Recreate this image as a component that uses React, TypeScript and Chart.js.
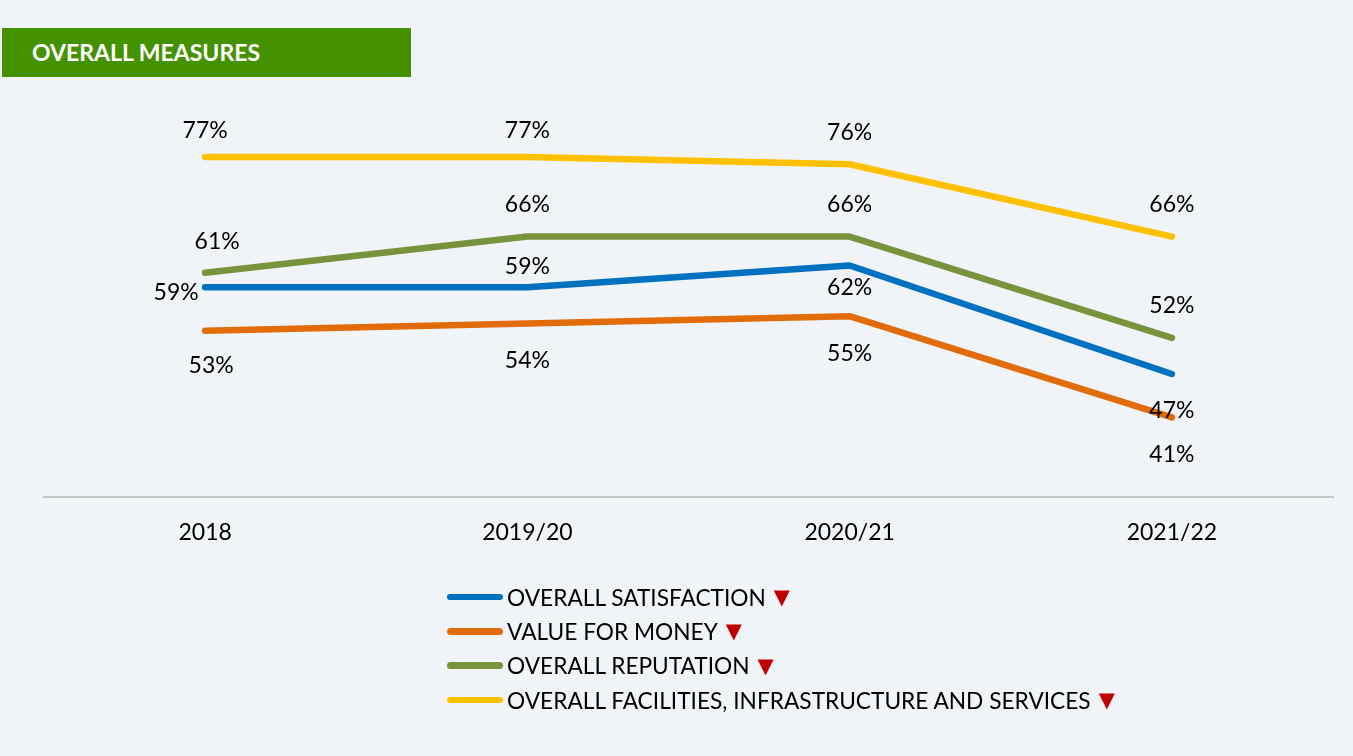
import React, { useEffect, useRef } from "react";
import { Chart, registerables } from "chart.js";

Chart.register(...registerables);

const CATEGORIES = ["2018", "2019/20", "2020/21", "2021/22"];
const SERIES_NAMES = [
  "OVERALL SATISFACTION",
  "VALUE FOR MONEY",
  "OVERALL REPUTATION",
  "OVERALL FACILITIES, INFRASTRUCTURE AND SERVICES",
];
const OVERALL_SATISFACTION = [59, 59, 62, 47];
const VALUE_FOR_MONEY = [53, 54, 55, 41];
const OVERALL_REPUTATION = [61, 66, 66, 52];
const OVERALL_FACILITIES = [77, 77, 76, 66];
const SERIES_VALUES = [OVERALL_SATISFACTION, VALUE_FOR_MONEY, OVERALL_REPUTATION, OVERALL_FACILITIES];
const TITLE = "OVERALL MEASURES";

const Y_MIN = 30;
const Y_MAX = 90;

const COLORS = ["#0070C0", "#E36C0A", "#77933C", "#FFC000"];
const BG = "#F0F4F9";
const FONT = "Lato, 'Open Sans', sans-serif";

const LABEL_PLACEMENT = [
  ["left", "aboveNear", "belowNear", "below"],
  ["belowRight", "below", "below", "below"],
  ["aboveRight", "above", "above", "above"],
  ["aboveClose", "aboveClose", "above", "above"],
];
const OFFSETS: Record<string, [number, number]> = {
  above: [0, -32],
  aboveClose: [0, -26],
  aboveRight: [12, -31],
  below: [0, 37],
  belowRight: [6, 35],
  left: [-29, 5],
  aboveNear: [0, -21],
  belowNear: [0, 22],
};

const labelPlugin = {
  id: "pointLabels",
  afterDatasetsDraw(chart: any) {
    const ctx = chart.ctx;
    ctx.save();
    ctx.font = `23px ${FONT}`;
    ctx.fillStyle = "#000";
    ctx.textAlign = "center";
    ctx.textBaseline = "middle";
    chart.data.datasets.forEach((ds: any, i: number) => {
      const meta = chart.getDatasetMeta(i);
      meta.data.forEach((pt: any, j: number) => {
        const [dx, dy] = OFFSETS[LABEL_PLACEMENT[i][j]];
        ctx.fillText(ds.data[j] + "%", pt.x + dx, pt.y + dy);
      });
    });
    ctx.restore();
  },
};

export default function App() {
  const ref = useRef<HTMLCanvasElement | null>(null);

  useEffect(() => {
    if (!ref.current) return;
    const chart = new Chart(ref.current, {
      type: "line",
      data: {
        labels: CATEGORIES,
        datasets: SERIES_VALUES.map((vals, i) => ({
          label: SERIES_NAMES[i],
          data: vals,
          borderColor: COLORS[i],
          backgroundColor: COLORS[i],
          borderWidth: 6.5,
          borderCapStyle: "round",
          borderJoinStyle: "round",
          pointRadius: 0,
          tension: 0,
          fill: false,
        })),
      },
      options: {
        responsive: false,
        animation: false,
        layout: { padding: { top: 63, left: 44, right: 20, bottom: 0 } },
        plugins: {
          legend: { display: false },
          tooltip: { enabled: false },
        },
        scales: {
          x: {
            offset: true,
            grid: { display: false, drawTicks: false },
            border: { display: true, color: "#C3C6CA", width: 2 },
            ticks: { color: "#000", font: { family: FONT, size: 23 }, padding: 22 },
            afterFit(scale: any) {
              scale.height = 259;
            },
          },
          y: {
            display: false,
            min: Y_MIN,
            max: Y_MAX,
          },
        },
      },
      plugins: [labelPlugin],
    } as any);
    return () => chart.destroy();
  }, []);

  return (
    <div
      style={{
        position: "absolute",
        left: 0,
        top: 0,
        width: 1353,
        height: 756,
        background: BG,
        fontFamily: FONT,
        overflow: "hidden",
      }}
    >
      <canvas ref={ref} width={1353} height={756} style={{ position: "absolute", left: 0, top: 0, width: 1353, height: 756 }} />
      <div
        style={{
          position: "absolute",
          left: 2,
          top: 28,
          width: 409,
          height: 49,
          background: "#449200",
          color: "#fff",
          fontWeight: 700,
          fontSize: 23,
          lineHeight: "49px",
          paddingLeft: 30,
          boxSizing: "border-box",
          fontFamily: FONT,
        }}
      >
        {TITLE}
      </div>
      <div style={{ position: "absolute", left: 447, top: 580 }}>
        {SERIES_NAMES.map((name, i) => (
          <div key={name} style={{ display: "flex", alignItems: "center", height: 34.3, whiteSpace: "nowrap" }}>
            <span style={{ display: "inline-block", width: 56, height: 6.5, borderRadius: 3.5, background: COLORS[i], marginRight: 4 }} />
            <span style={{ fontSize: 22.7, color: "#000", fontFamily: FONT }}>{name}</span>
            <span style={{ fontSize: 21, color: "#C00000", marginLeft: 8, fontFamily: "'DejaVu Sans', sans-serif" }}>▼</span>
          </div>
        ))}
      </div>
    </div>
  );
}
